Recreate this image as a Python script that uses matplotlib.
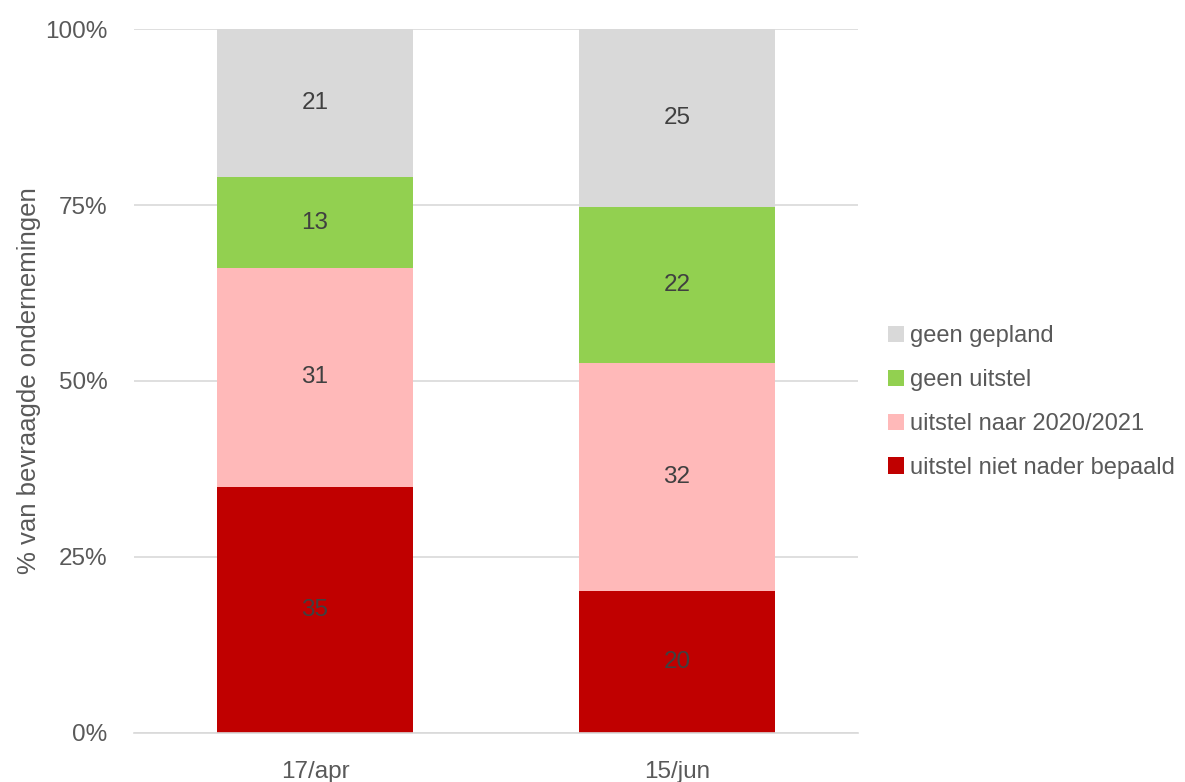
import matplotlib.pyplot as plt
import numpy as np

categories = ["17/apr", "15/jun"]
series = ["uitstel niet nader bepaald", "uitstel naar 2020/2021", "geen uitstel", "geen gepland"]
niet_bepaald = [35, 20]
naar_2020 = [31, 32]
geen_uitstel = [13, 22]
geen_gepland = [21, 25]
colors = ["#c00000", "#ffb9b9", "#92d050", "#d9d9d9"]

plt.rcParams["font.family"] = ["Liberation Sans Narrow", "Liberation Sans", "DejaVu Sans"]
text_color = "#595959"

values = np.array([niet_bepaald, naar_2020, geen_uitstel, geen_gepland], dtype=float)
shares = values / values.sum(axis=0) * 100  # labels are rounded, bars fill to 100%

fig = plt.figure(figsize=(11.85, 7.82), dpi=100)
ax = fig.add_axes([0.1131, 0.0627, 0.611, 0.9002])

x = np.arange(len(categories))
bottom = np.zeros(len(categories))
handles = []
for name, share, raw, col in zip(series, shares, values, colors):
    bars = ax.bar(x, share, 0.54, bottom=bottom, color=col, label=name, zorder=2)
    handles.append(bars)
    for xi, b, s, r in zip(x, bottom, share, raw):
        ax.text(xi, b + s / 2, f"{r:.0f}", ha="center", va="center",
                fontsize=17.5, color="#404040", zorder=3)
    bottom += share

ax.set_xlim(-0.5, 1.5)
ax.set_ylim(0, 100)
ax.set_yticks([0, 25, 50, 75, 100])
ax.set_yticklabels(["0%", "25%", "50%", "75%", "100%"])
ax.set_xticks(x)
ax.set_xticklabels(categories)
ax.yaxis.grid(True, color="#d9d9d9", linewidth=1.2, zorder=0)
ax.set_axisbelow(True)
for side in ["top", "right", "left"]:
    ax.spines[side].set_visible(False)
ax.spines["bottom"].set_color("#d9d9d9")
ax.spines["bottom"].set_linewidth(1.2)
ax.tick_params(axis="both", length=0, labelsize=17.5, colors=text_color)
ax.tick_params(axis="y", pad=19)
ax.tick_params(axis="x", pad=20)
ax.set_ylabel("% van bevraagde ondernemingen", fontsize=18.5, color=text_color)
ax.yaxis.set_label_coords(-0.128, 0.5)

leg = fig.legend(handles[::-1], series[::-1], loc="center left",
                 bbox_to_anchor=(0.7317, 0.486), frameon=False, fontsize=17,
                 handlelength=0.68, handleheight=0.68, handletextpad=0.25,
                 labelspacing=0.93, labelcolor=text_color)

fig.savefig("out.png", dpi=100)
